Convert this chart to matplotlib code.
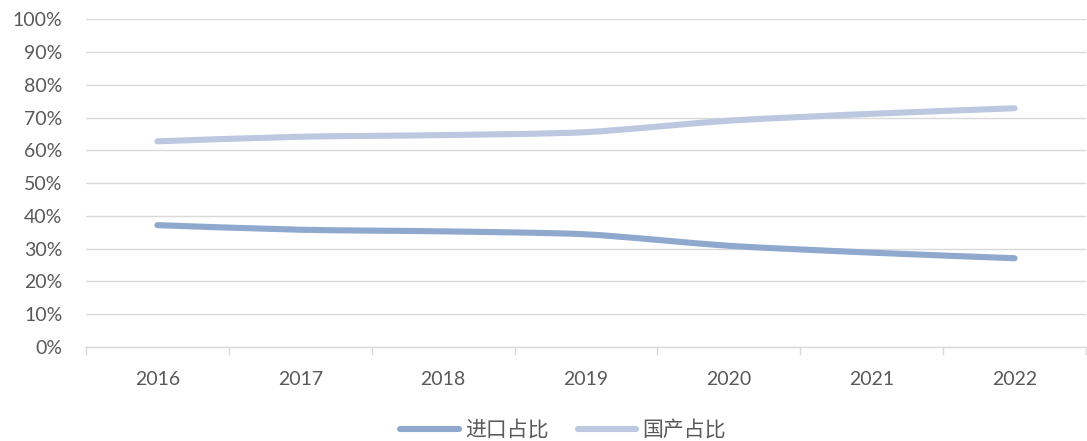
import matplotlib.pyplot as plt
import numpy as np
from matplotlib.path import Path
from matplotlib.patches import PathPatch
from matplotlib.lines import Line2D
from matplotlib.ticker import FixedLocator, PercentFormatter

# Data
years = ['2016', '2017', '2018', '2019', '2020', '2021', '2022']
import_share = [37.2, 35.8, 35.3, 34.4, 30.9, 28.8, 27.1]
domestic_share = [62.8, 64.2, 64.7, 65.6, 69.1, 71.2, 72.9]
series_names = ['进口占比', '国产占比']
colors = ['#8FA8CD', '#BCC8DF']

plt.rcParams['font.family'] = ['Lato', 'Noto Sans CJK SC', 'DejaVu Sans']


def smooth_path(x, y, t=1 / 6):
    # Excel-style smoothed line: cubic Bezier through the points
    x = np.asarray(x, float)
    y = np.asarray(y, float)
    n = len(x)
    verts = [(x[0], y[0])]
    codes = [Path.MOVETO]
    for i in range(n - 1):
        p0 = np.array([x[max(i - 1, 0)], y[max(i - 1, 0)]])
        p1 = np.array([x[i], y[i]])
        p2 = np.array([x[i + 1], y[i + 1]])
        p3 = np.array([x[min(i + 2, n - 1)], y[min(i + 2, n - 1)]])
        c1 = p1 + (p2 - p0) * t
        c2 = p2 - (p3 - p1) * t
        verts += [tuple(c1), tuple(c2), tuple(p2)]
        codes += [Path.CURVE4] * 3
    return Path(verts, codes)


fig = plt.figure(figsize=(10.87, 4.41), dpi=100)
ax = fig.add_axes([0.0791, 0.2132, 0.92, 0.7426])

xs = np.arange(len(years))
for vals, c in zip([import_share, domestic_share], colors):
    patch = PathPatch(smooth_path(xs, vals, t=0.12), facecolor='none', edgecolor=c,
                      lw=4.4, capstyle='round', joinstyle='round', zorder=3)
    ax.add_patch(patch)

ax.set_xlim(-0.5, len(years) - 0.5)
ax.set_ylim(0, 100)
ax.set_yticks(np.arange(0, 101, 10))
ax.yaxis.set_major_formatter(PercentFormatter(decimals=0))
ax.grid(axis='y', color='#D9D9D9', lw=1)
ax.set_axisbelow(True)

ax.set_xticks(xs)
ax.set_xticklabels(years)
ax.xaxis.set_minor_locator(FixedLocator(np.arange(-0.5, len(years), 1)))
ax.tick_params(axis='x', which='major', length=0, pad=17, labelsize=14, labelcolor='#595959')
ax.tick_params(axis='x', which='minor', length=6, width=1, color='#D9D9D9', direction='out')
ax.tick_params(axis='y', length=0, pad=17, labelsize=14, labelcolor='#595959')
for lab in ax.get_yticklabels():
    lab.set_horizontalalignment('right')

for s in ['top', 'right', 'left']:
    ax.spines[s].set_visible(False)
ax.spines['bottom'].set_color('#D9D9D9')
ax.spines['bottom'].set_linewidth(1)

handles = [Line2D([0], [0], color=c, lw=4.4, solid_capstyle='round') for c in colors]
fig.legend(handles, series_names, loc='center', bbox_to_anchor=(0.518, 0.025),
           ncol=2, frameon=False, handlelength=2.8, columnspacing=1.4,
           handletextpad=0.3, labelcolor='#595959',
           prop={'family': ['Noto Sans CJK SC', 'DejaVu Sans'], 'size': 15})

fig.savefig('out.png', dpi=100)
